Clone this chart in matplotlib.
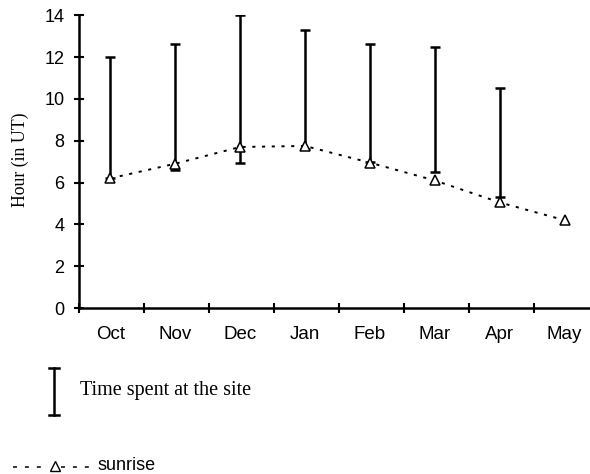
import matplotlib.pyplot as plt
import numpy as np
from matplotlib.lines import Line2D

months = ["Oct", "Nov", "Dec", "Jan", "Feb", "Mar", "Apr", "May"]
# hours (UT) of arrival and departure at the site, Oct..Apr
visit_start = [6.2, 6.6, 6.95, 7.6, 7.0, 6.5, 5.3]
visit_end = [12.0, 12.6, 14.0, 13.3, 12.6, 12.5, 10.5]
# sunrise hour (UT), Oct..May
sunrise = [6.2, 6.9, 7.7, 7.75, 6.95, 6.1, 5.05, 4.2]

sans = "Liberation Sans"
serif = "Liberation Serif"

fig = plt.figure(figsize=(5.9, 4.74), dpi=100)
ax = fig.add_axes([0.134, 0.350, 0.866, 0.618])

x = np.arange(len(months)) + 0.48
xv = x[:len(visit_start)]
lo = np.asarray(visit_start)
hi = np.asarray(visit_end)

ax.errorbar(xv, lo, yerr=[np.zeros_like(lo), hi - lo], fmt="none",
            ecolor="black", elinewidth=1.8, capsize=3.8, capthick=1.8, zorder=2)
ax.plot(x, sunrise, color="black", lw=1.4, dashes=(1.6, 3.4),
        marker="^", markersize=7, markerfacecolor="white",
        markeredgecolor="black", markeredgewidth=1.1, zorder=3)

ax.set_xlim(0, 7.87)
ax.set_ylim(0, 14)
ax.set_yticks(np.arange(0, 15, 2))
ax.set_xticks(np.arange(0, 8))
ax.set_xticklabels([])
ax.set_xticks(x, minor=True)
ax.set_xticklabels(months, minor=True)
ax.tick_params(axis="x", which="minor", length=0, pad=13)
ax.tick_params(axis="both", which="major", direction="inout", length=7, width=1.5)
ax.tick_params(axis="y", pad=7)
for lab in ax.get_xticklabels(minor=True):
    lab.set_fontfamily(sans)
    lab.set_fontsize(13.5)
for lab in ax.get_yticklabels():
    lab.set_fontfamily(sans)
    lab.set_fontsize(13)

ax.spines["right"].set_visible(False)
ax.spines["top"].set_visible(False)
ax.spines["left"].set_linewidth(1.8)
ax.spines["bottom"].set_linewidth(1.8)
ax.spines["left"].set_bounds(0, 14)

W, H = 590, 474
def fx(px):
    return px / W
def fy(py):
    return 1 - py / H

fig.text(fx(20), fy(160), "Hour (in UT)", rotation=90, family=serif, fontsize=12.8,
         ha="center", va="center")

# key under the chart
fig.add_artist(Line2D([fx(54), fx(54)], [fy(368), fy(415)], color="black", lw=1.8))
fig.add_artist(Line2D([fx(49), fx(59)], [fy(368), fy(368)], color="black", lw=1.8))
fig.add_artist(Line2D([fx(49), fx(59)], [fy(415), fy(415)], color="black", lw=1.8))
fig.text(fx(80), fy(391), "Time spent at the site", family=serif, fontsize=14.5,
         ha="left", va="center")

for x0, x1 in [(13, 45), (61, 90)]:
    fig.add_artist(Line2D([fx(x0), fx(x1)], [fy(467), fy(467)], color="black", lw=1.1,
                          dashes=(2.6, 5.2)))
fig.add_artist(Line2D([fx(55)], [fy(466)], color="black", marker="^", markersize=7,
                      markerfacecolor="white", markeredgewidth=1.0, lw=0))
fig.text(fx(98), fy(466), "sunrise", family=sans, fontsize=13, ha="left", va="center")

fig.savefig("out.png", dpi=100)
